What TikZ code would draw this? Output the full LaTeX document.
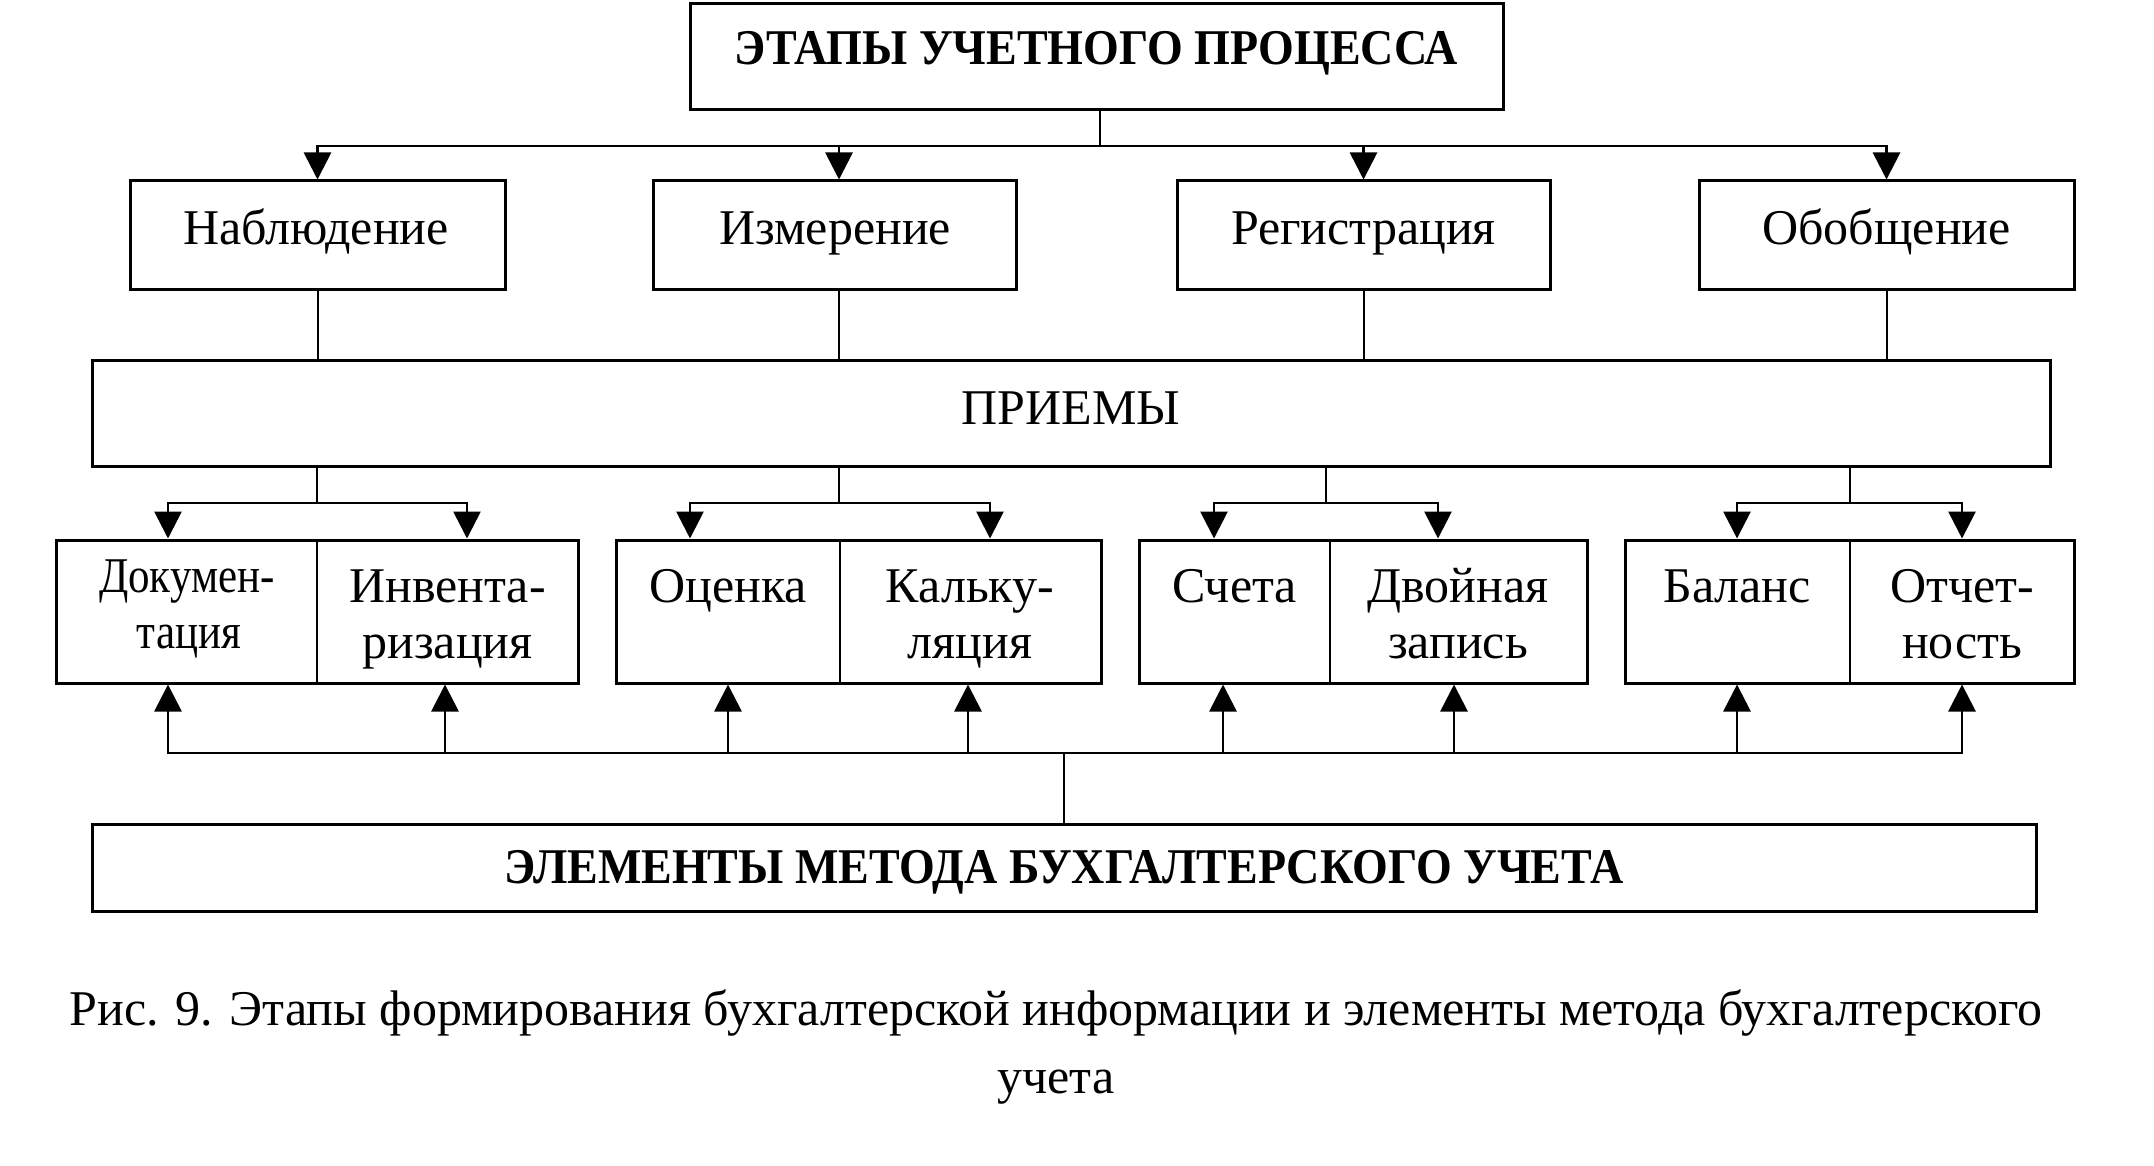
\documentclass[tikz,border=0pt]{standalone}
\usepackage{graphicx}
\usepackage{fontspec}
\setmainfont{Liberation Serif}
\usetikzlibrary{arrows.meta}
\newcommand\fs{\fontsize{50pt}{56pt}\selectfont}
\begin{document}
\begin{tikzpicture}[x=1pt,y=-1pt,
  box/.style={draw,line width=3pt,inner sep=0pt},
  txt/.style={inner sep=0pt,anchor=base,font=\fs},
  thin/.style={line width=2pt},
  arr/.style={line width=2.8pt,-{Triangle[length=27pt,width=27pt]}},
]
\useasboundingbox[fill=white] (0,0) rectangle (2154,1166);

% boxes
\node[box,minimum width=813pt,minimum height=106pt] (top) at (1096.5,57) {};
\node[box,minimum width=375pt,minimum height=108pt] (nab) at (317.5,235) {};
\node[box,minimum width=363pt,minimum height=108pt] (izm) at (834.5,235) {};
\node[box,minimum width=373pt,minimum height=108pt] (reg) at (1363.5,235) {};
\node[box,minimum width=375pt,minimum height=108pt] (obo) at (1886.5,235) {};
\node[box,minimum width=1958pt,minimum height=106pt] (prm) at (1071,413) {};
\node[box,minimum width=522pt,minimum height=143pt] (g1) at (317,611.5) {};
\node[box,minimum width=485pt,minimum height=143pt] (g2) at (858.5,611.5) {};
\node[box,minimum width=448pt,minimum height=143pt] (g3) at (1363,611.5) {};
\node[box,minimum width=449pt,minimum height=143pt] (g4) at (1849.5,611.5) {};
\node[box,minimum width=1944pt,minimum height=87pt] (bot) at (1064,867.5) {};

% dividers
\coordinate (d1) at (317,0);
\coordinate (d2) at (840,0);
\coordinate (d3) at (1330,0);
\coordinate (d4) at (1850,0);
\draw[thin] (g1.north -| d1) -- (g1.south -| d1);
\draw[thin] (g2.north -| d2) -- (g2.south -| d2);
\draw[thin] (g3.north -| d3) -- (g3.south -| d3);
\draw[thin] (g4.north -| d4) -- (g4.south -| d4);

% top bus
\coordinate (tb) at (1100,146);
\coordinate (c2) at (839,0);
\draw[thin] (tb |- top.south) -- (tb);
\draw[arr] (tb) -| (nab.north);
\draw[arr] (tb) -| (c2 |- izm.north);
\draw[arr] (tb) -| (reg.north);
\draw[arr] (tb) -| (obo.north);

% stages to PRIEMY
\draw[thin] (nab.south) -- (nab.south |- prm.north);
\draw[thin] (c2 |- izm.south) -- (c2 |- prm.north);
\draw[thin] (reg.south) -- (reg.south |- prm.north);
\draw[thin] (obo.south) -- (obo.south |- prm.north);

% lower buses
\coordinate (v1) at (317,503);
\coordinate (v2) at (839,503);
\coordinate (v3) at (1326,503);
\coordinate (v4) at (1850,503);
\coordinate (a1) at (168,0);  \coordinate (a2) at (467,0);
\coordinate (a3) at (690,0);  \coordinate (a4) at (990,0);
\coordinate (a5) at (1214,0); \coordinate (a6) at (1438,0);
\coordinate (a7) at (1737,0); \coordinate (a8) at (1962,0);
\draw[thin] (prm.south -| v1) -- (v1);
\draw[thin] (prm.south -| v2) -- (v2);
\draw[thin] (prm.south -| v3) -- (v3);
\draw[thin] (prm.south -| v4) -- (v4);
\draw[arr] (v1) -| (a1 |- g1.north);
\draw[arr] (v1) -| (a2 |- g1.north);
\draw[arr] (v2) -| (a3 |- g2.north);
\draw[arr] (v2) -| (a4 |- g2.north);
\draw[arr] (v3) -| (a5 |- g3.north);
\draw[arr] (v3) -| (a6 |- g3.north);
\draw[arr] (v4) -| (a7 |- g4.north);
\draw[arr] (v4) -| (a8 |- g4.north);

% bottom bus
\coordinate (bb) at (1064,753);
\coordinate (u1) at (168,0);  \coordinate (u2) at (445,0);
\coordinate (u3) at (728,0);  \coordinate (u4) at (968,0);
\coordinate (u5) at (1223,0); \coordinate (u6) at (1454,0);
\coordinate (u7) at (1737,0); \coordinate (u8) at (1962,0);
\draw[thin] (bot.north -| bb) -- (bb);
\draw[arr] (bb) -| (u1 |- g1.south);
\draw[arr] (bb) -| (u2 |- g1.south);
\draw[arr] (bb) -| (u3 |- g2.south);
\draw[arr] (bb) -| (u4 |- g2.south);
\draw[arr] (bb) -| (u5 |- g3.south);
\draw[arr] (bb) -| (u6 |- g3.south);
\draw[arr] (bb) -| (u7 |- g4.south);
\draw[arr] (bb) -| (u8 |- g4.south);

% texts
\node[txt,font=\fs\bfseries] (t0) at (1096.5,65) {\scalebox{0.92}[1]{ЭТАПЫ УЧЕТНОГО ПРОЦЕССА}};
\node[txt] (t1) at (316,245) {Наблюдение};
\node[txt] (t2) at (835,245) {Измерение};
\node[txt] (t3) at (1363.5,245) {Регистрация};
\node[txt] (t4) at (1886.5,245) {Обобщение};
\node[txt] (t5) at (1071,424) {ПРИЕМЫ};
\node[txt] (e1a) at (187,592) {\scalebox{0.86}[1]{Докумен-}};
\node[txt] (e1b) at (189,648) {\scalebox{0.86}[1]{тация}};
\node[txt] (e2a) at (447.5,602) {Инвента-};
\node[txt] (e2b) at (447.5,658) {ризация};
\node[txt] (e3a) at (728,602) {Оценка};
\node[txt] (e4a) at (970,602) {Кальку-};
\node[txt] (e4b) at (970,658) {ляция};
\node[txt] (e5a) at (1234.5,602) {Счета};
\node[txt] (e6a) at (1458,602) {Двойная};
\node[txt] (e6b) at (1458,658) {запись};
\node[txt] (e7a) at (1737,602) {Баланс};
\node[txt] (e8a) at (1962,602) {Отчет-};
\node[txt] (e8b) at (1962,658) {ность};
\node[txt,font=\fs\bfseries] (t6) at (1064,883) {\scalebox{0.92}[1]{ЭЛЕМЕНТЫ МЕТОДА БУХГАЛТЕРСКОГО УЧЕТА}};
\node[txt] (c1) at (1056,1025) {Рис. 9. Этапы формирования бухгалтерской информации и элементы метода бухгалтерского};
\node[txt] (c2t) at (1056,1093) {учета};
\end{tikzpicture}
\end{document}
